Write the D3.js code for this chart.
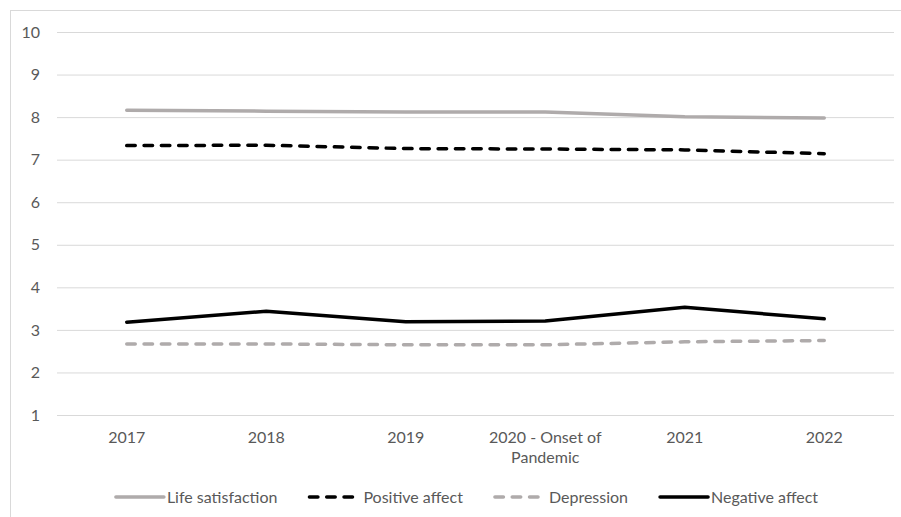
<!DOCTYPE html>
<html><head><meta charset="utf-8">
<script src="https://cdn.jsdelivr.net/npm/d3@7"></script>
<style>html,body{margin:0;padding:0;background:#fff;}svg{display:block;}</style>
</head><body>
<svg id="chart" width="901" height="517"></svg>
<script>
const categories = ["2017", "2018", "2019", "2020 - Onset of\nPandemic", "2021", "2022"];
const lifeSatisfaction = [8.16, 8.14, 8.12, 8.12, 8.01, 7.98];
const positiveAffect = [7.33, 7.34, 7.26, 7.25, 7.23, 7.14];
const depression = [2.67, 2.67, 2.65, 2.65, 2.72, 2.75];
const negativeAffect = [3.18, 3.44, 3.19, 3.21, 3.53, 3.26];
const yTicks = [1, 2, 3, 4, 5, 6, 7, 8, 9, 10];
const seriesNames = ["Life satisfaction", "Positive affect", "Depression", "Negative affect"];

(function() {
const series = [
  {name: seriesNames[0], values: lifeSatisfaction, color: "#afabab", dash: null},
  {name: seriesNames[1], values: positiveAffect, color: "#000000", dash: "8.5,8.8"},
  {name: seriesNames[2], values: depression, color: "#afabab", dash: "8.5,8.8"},
  {name: seriesNames[3], values: negativeAffect, color: "#000000", dash: null}
];

const svg = d3.select("#chart");
const font = "Lato, 'Open Sans', sans-serif";
const fs = "16px";
const textColor = "#595959";

svg.append("rect").attr("x", 10.5).attr("y", 10.5).attr("width", 1000).attr("height", 1000)
  .attr("fill", "none").attr("stroke", "#d9d9d9").attr("stroke-width", 1);

const mLeft = 57, mRight = 894, mTop = 32, mBottom = 415;
const x = d3.scaleBand().domain(categories).range([mLeft, mRight]);
const y = d3.scaleLinear().domain([1, 10]).range([mBottom, mTop]);

const yAxis = d3.axisLeft(y).tickValues(yTicks).tickSize(-(mRight - mLeft)).tickPadding(17).tickFormat(d3.format("d"));
const gy = svg.append("g").attr("transform", `translate(${mLeft},0)`).call(yAxis);
gy.select(".domain").remove();
gy.selectAll(".tick line").attr("stroke", "#d9d9d9").attr("stroke-width", 1);
gy.selectAll(".tick text").attr("fill", textColor).style("font-family", font).style("font-size", fs);

const xAxis = d3.axisBottom(x).tickSize(0).tickPadding(0).tickFormat(() => "");
const gx = svg.append("g").attr("transform", `translate(0,${mBottom})`).call(xAxis);
gx.select(".domain").remove();
gx.selectAll(".tick").each(function(d) {
  const t = d3.select(this).append("text").attr("fill", textColor)
    .style("font-family", font).style("font-size", fs).attr("text-anchor", "middle");
  d.split("\n").forEach((ln, i) => {
    t.append("tspan").attr("x", 0).attr("y", 28 + i * 20).text(ln);
  });
});

const line = d3.line().x((d, i) => x(categories[i]) + x.bandwidth() / 2).y(d => y(d));
series.forEach(s => {
  svg.append("path").datum(s.values).attr("d", line)
    .attr("fill", "none").attr("stroke", s.color).attr("stroke-width", 3.5)
    .attr("stroke-linecap", "round").attr("stroke-linejoin", "round")
    .attr("stroke-dasharray", s.dash);
});

const legend = svg.append("g");
const ly = 497;
let cx = 0;
series.forEach((s) => {
  const g = legend.append("g");
  g.append("line").attr("x1", 2).attr("x2", 50).attr("y1", 0).attr("y2", 0)
    .attr("stroke", s.color).attr("stroke-width", 3.5).attr("stroke-linecap", "round")
    .attr("stroke-dasharray", s.dash ? "8.5,8.8" : null);
  const tx = s.dash ? 56 : 53;
  const t = g.append("text").attr("x", tx).attr("y", 5.5).attr("fill", textColor)
    .style("font-family", font).style("font-size", fs).text(s.name);
  const w = tx + t.node().getComputedTextLength();
  g.attr("transform", `translate(${cx},${ly})`);
  cx += w + 30;
});
const totalW = cx - 30;
legend.attr("transform", `translate(${466 - totalW / 2},0)`);
})();
</script>
</body></html>
